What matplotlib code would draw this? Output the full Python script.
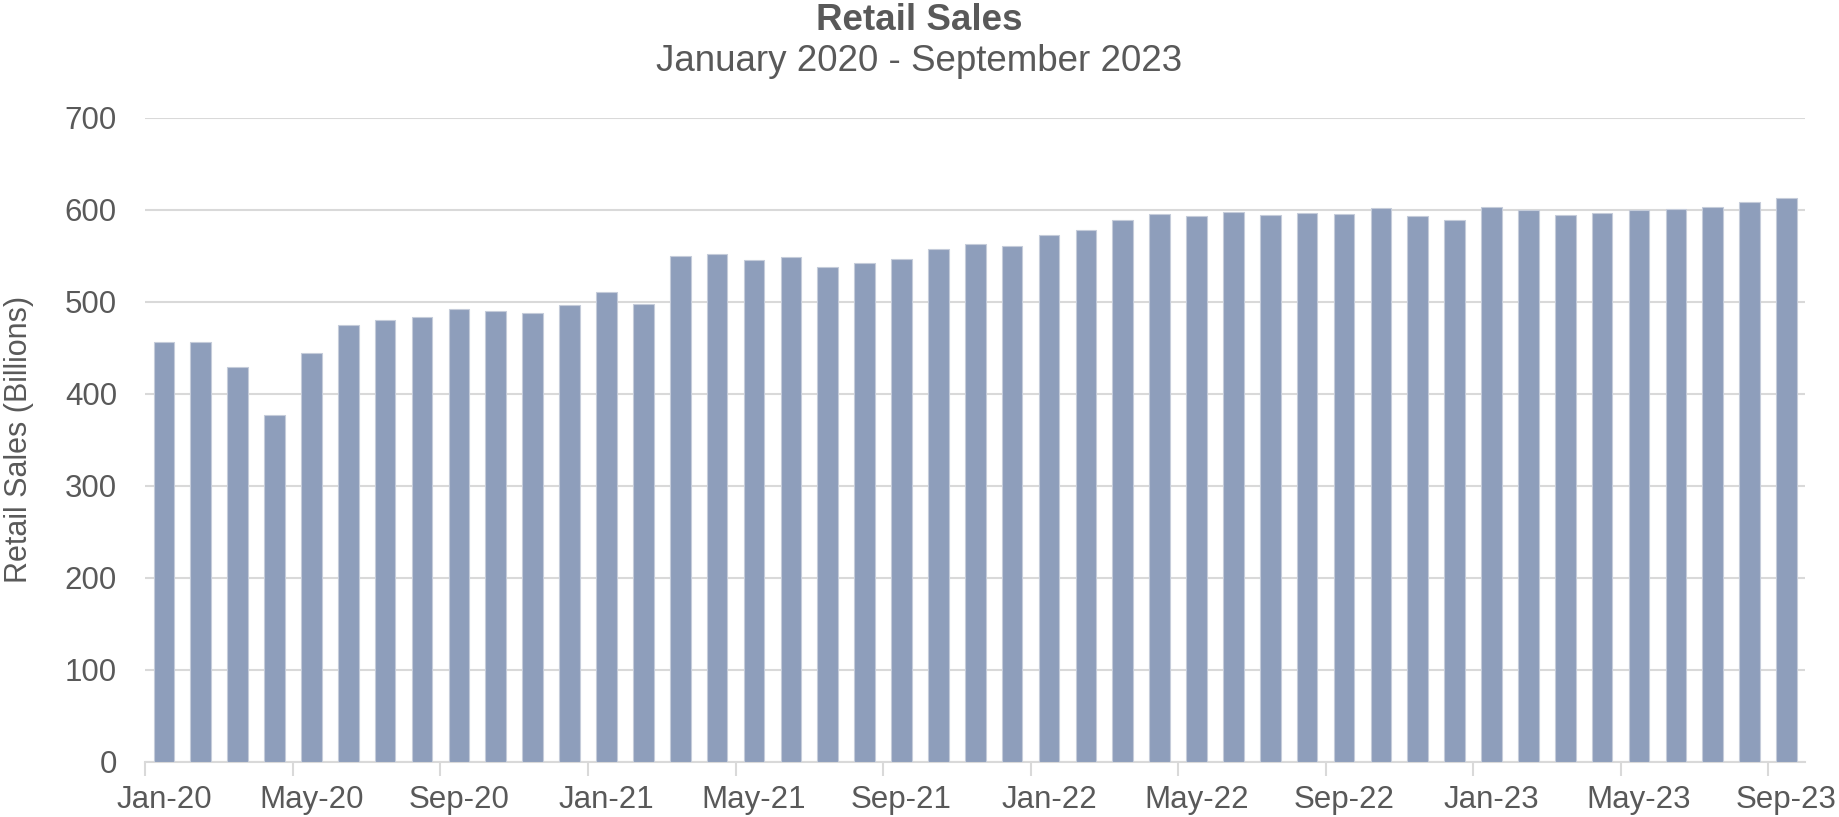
import matplotlib
matplotlib.use("Agg")
import matplotlib.pyplot as plt
import numpy as np

plt.rcParams['font.family'] = ['Liberation Sans', 'DejaVu Sans']

months = ["Jan-20", "Feb-20", "Mar-20", "Apr-20", "May-20", "Jun-20", "Jul-20", "Aug-20", "Sep-20", "Oct-20", "Nov-20", "Dec-20",
          "Jan-21", "Feb-21", "Mar-21", "Apr-21", "May-21", "Jun-21", "Jul-21", "Aug-21", "Sep-21", "Oct-21", "Nov-21", "Dec-21",
          "Jan-22", "Feb-22", "Mar-22", "Apr-22", "May-22", "Jun-22", "Jul-22", "Aug-22", "Sep-22", "Oct-22", "Nov-22", "Dec-22",
          "Jan-23", "Feb-23", "Mar-23", "Apr-23", "May-23", "Jun-23", "Jul-23", "Aug-23", "Sep-23"]
sales = [455.9, 456.2, 429.3, 376.5, 444.2, 474.3, 480.1, 483.0, 492.1, 489.9, 487.4, 496.1,
         510.2, 497.2, 550.0, 552.2, 545.0, 548.3, 537.4, 542.4, 546.7, 556.9, 562.7, 560.5,
         572.2, 577.6, 588.8, 595.0, 593.2, 597.8, 593.9, 596.7, 595.7, 601.5, 592.8, 588.5,
         602.6, 600.0, 593.9, 596.4, 599.7, 600.4, 602.9, 608.4, 612.4]
y_ticks = [0, 100, 200, 300, 400, 500, 600, 700]

title = "Retail Sales"
subtitle = "January 2020 - September 2023"
ylabel = "Retail Sales (Billions)"

text_color = "#595959"
grid_color = "#D9D9D9"
bar_color = "#8E9EBB"

fig = plt.figure(figsize=(18.39, 8.17), dpi=100)
ax = fig.add_axes([0.0791, 0.0677, 0.9024, 0.7883])

x = np.arange(len(months))
ax.bar(x, sales, width=0.56, color=bar_color, edgecolor="#C5CCDA", linewidth=0.8, zorder=3)

ax.set_xlim(-0.5, len(months) - 0.5)
ax.set_ylim(0, 700)
ax.set_yticks(y_ticks)
ax.set_yticklabels([str(v) for v in y_ticks])
ax.tick_params(axis='y', length=0, pad=20.5, labelsize=22.5, labelcolor=text_color)
ax.yaxis.grid(True, color=grid_color, linewidth=1.5, zorder=0)
ax.set_axisbelow(True)

# category boundary ticks every 4 months, labels centered on the category
ax.set_xticks(np.arange(-0.5, len(months) - 0.5, 4))
ax.set_xticklabels([])
ax.set_xticks(x[::4], minor=True)
ax.set_xticklabels([months[i] for i in x[::4]], minor=True)
ax.tick_params(axis='x', which='major', length=10, width=1.5, color=grid_color, direction='out')
ax.tick_params(axis='x', which='minor', length=0, pad=17, labelsize=22.5, labelcolor=text_color)

for s in ['top', 'right', 'left']:
    ax.spines[s].set_visible(False)
ax.spines['bottom'].set_color(grid_color)
ax.spines['bottom'].set_linewidth(1.5)

ax.set_ylabel(ylabel, fontsize=22, color=text_color, va='center')
ax.yaxis.set_label_coords(-0.0765, 0.5)

fig.text(0.5, 0.975, title, ha='center', va='center', fontsize=26.5, fontweight='bold', color=text_color)
fig.text(0.5, 0.925, subtitle, ha='center', va='center', fontsize=26.5, color=text_color)

fig.savefig("out.png", dpi=100)
